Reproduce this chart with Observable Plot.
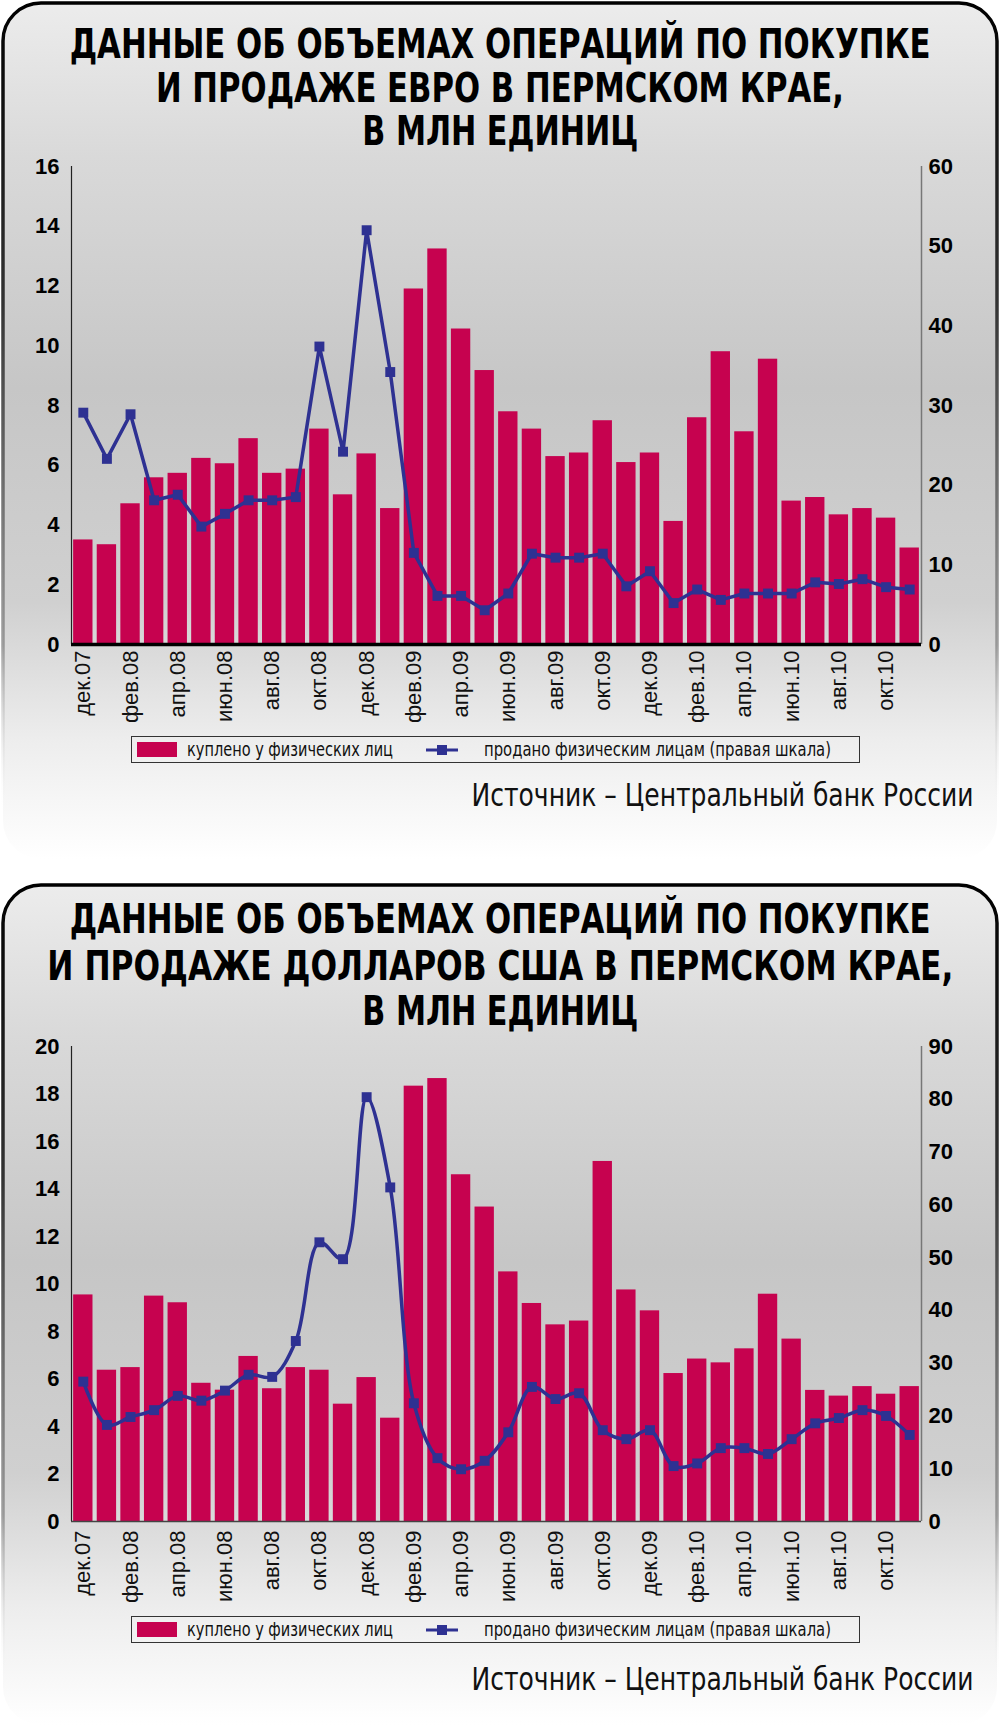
<!DOCTYPE html>
<html><head><meta charset="utf-8">
<script src="https://cdn.jsdelivr.net/npm/d3@7"></script>
<script src="https://cdn.jsdelivr.net/npm/@observablehq/plot@0.6"></script>
<style>
html,body{margin:0;padding:0;background:#fff;}
body{width:1000px;height:1726px;position:relative;overflow:hidden;font-family:"Liberation Sans",Arial,sans-serif;}
.tline{position:absolute;left:-500px;width:2000px;text-align:center;font-family:"Liberation Sans Narrow","DejaVu Sans Condensed","Liberation Sans",sans-serif;font-weight:900;font-size:40px;line-height:44px;height:44px;color:#000;white-space:nowrap;}
.fit{display:inline-block;white-space:nowrap;}
.legend{position:absolute;left:131px;width:729px;height:27px;border:1px solid #333;box-sizing:border-box;}
.legend .sw{position:absolute;left:5px;top:5px;width:40px;height:15px;background:#c6024f;}
.legend .lt{position:absolute;top:0;height:25px;line-height:25px;font-family:"Liberation Sans Narrow","DejaVu Sans Condensed","Liberation Sans",sans-serif;font-size:19px;color:#111;white-space:nowrap;transform-origin:left center;}
.legend svg{position:absolute;left:294px;top:4px;}
.source{position:absolute;right:27px;height:36px;line-height:36px;font-family:"Liberation Sans Narrow","DejaVu Sans Condensed","Liberation Sans",sans-serif;font-size:32px;color:#111;white-space:nowrap;transform-origin:right center;}
</style>
</head><body>
<div id="root"></div>
<script>
// ---------- data ----------
const months = ["дек.07","янв.08","фев.08","мар.08","апр.08","май.08","июн.08","июл.08","авг.08","сен.08","окт.08","ноя.08",
  "дек.08","янв.09","фев.09","мар.09","апр.09","май.09","июн.09","июл.09","авг.09","сен.09","окт.09","ноя.09",
  "дек.09","янв.10","фев.10","мар.10","апр.10","май.10","июн.10","июл.10","авг.10","сен.10","окт.10","ноя.10"];
const euroBought = [3.50,3.34,4.71,5.58,5.73,6.23,6.05,6.89,5.73,5.87,7.21,5.01,6.38,4.55,11.90,13.24,10.56,9.17,
  7.79,7.21,6.29,6.41,7.49,6.09,6.41,4.12,7.59,9.80,7.12,9.55,4.80,4.92,4.34,4.55,4.23,3.23];
const euroSold = [29.1,23.3,28.9,18.1,18.8,14.8,16.4,18.1,18.1,18.5,37.4,24.2,52.0,34.2,11.5,6.1,6.1,4.3,
  6.4,11.4,10.9,10.9,11.4,7.3,9.2,5.2,6.9,5.6,6.4,6.4,6.4,7.8,7.6,8.2,7.2,6.9];
const usdBought = [9.54,6.37,6.48,9.49,9.21,5.82,5.53,6.95,5.59,6.48,6.37,4.94,6.06,4.35,18.33,18.65,14.60,13.24,
  10.51,9.18,8.28,8.44,15.16,9.75,8.87,6.23,6.84,6.68,7.27,9.57,7.68,5.52,5.28,5.68,5.36,5.68];
const usdSold = [26.5,18.3,19.8,21.1,23.8,22.9,24.8,27.8,27.4,34.2,52.9,49.7,80.4,63.3,22.4,12.0,9.9,11.5,
  16.9,25.5,23.2,24.3,17.3,15.6,17.3,10.5,11.0,13.9,13.9,12.8,15.6,18.6,19.6,21.1,20.0,16.4];
const euroLeftTicks = [0,2,4,6,8,10,12,14,16];
const euroRightTicks = [0,10,20,30,40,50,60];
const usdLeftTicks = [0,2,4,6,8,10,12,14,16,18,20];
const usdRightTicks = [0,10,20,30,40,50,60,70,80,90];
const titles = [
  ["ДАННЫЕ ОБ ОБЪЕМАХ ОПЕРАЦИЙ ПО ПОКУПКЕ","И ПРОДАЖЕ ЕВРО В ПЕРМСКОМ КРАЕ,","В МЛН ЕДИНИЦ"],
  ["ДАННЫЕ ОБ ОБЪЕМАХ ОПЕРАЦИЙ ПО ПОКУПКЕ","И ПРОДАЖЕ ДОЛЛАРОВ США В ПЕРМСКОМ КРАЕ,","В МЛН ЕДИНИЦ"]
];
const legendBought = "куплено у физических лиц";
const legendSold = "продано физическим лицам (правая шкала)";
const sourceText = "Источник – Центральный банк России";

const BAR = "#c6024f", LINE = "#2e3192";
const root = document.getElementById("root");

function panelBg(top, h, id) {
  const svg = d3.create("svg").attr("width", 1000).attr("height", h)
    .style("position","absolute").style("left","0px").style("top", top + "px");
  const defs = svg.append("defs");
  const g = defs.append("linearGradient").attr("id","fill"+id).attr("x1",0).attr("y1",0).attr("x2",0).attr("y2",1);
  [[0,"#ececec"],[0.18,"#d9d9d9"],[0.45,"#c6c6c6"],[0.7,"#d0d0d0"],[0.86,"#ededed"],[1,"#ffffff"]]
    .forEach(([o,c]) => g.append("stop").attr("offset",o).attr("stop-color",c));
  const s = defs.append("linearGradient").attr("id","str"+id).attr("x1",0).attr("y1",0).attr("x2",0).attr("y2",1);
  [[0,"#000",1],[0.35,"#333",1],[0.75,"#888",0.8],[0.95,"#fff",0]]
    .forEach(([o,c,op]) => s.append("stop").attr("offset",o).attr("stop-color",c).attr("stop-opacity",op));
  svg.append("rect").attr("x",3).attr("y",3).attr("width",994).attr("height",h-4).attr("rx",38).attr("ry",38)
    .attr("fill","url(#fill"+id+")").attr("stroke","url(#str"+id+")").attr("stroke-width",3.5);
  root.appendChild(svg.node());
}

function titleBlock(lines, centers, widths) {
  lines.forEach((t,i) => {
    const d = document.createElement("div");
    d.className = "tline";
    d.style.top = (centers[i] - 22) + "px";
    const s = document.createElement("span");
    s.className = "fit"; s.textContent = t; s.dataset.w = widths[i];
    s.style.transformOrigin = "center center";
    d.appendChild(s); root.appendChild(d);
  });
}

function chart({top, bought, sold, leftTicks, rightTicks, leftMax, rightMax, marginTop, marginBottom, baseW, baseC, curve, labelPad}) {
  const k = leftMax / rightMax;
  const data = months.map((m,i) => ({i, m, b: bought[i], s: sold[i] * k}));
  const plot = Plot.plot({
    width: 1000, height: 600,
    marginLeft: 71, marginRight: 79, marginTop, marginBottom,
    x: {domain: [-0.5, months.length - 0.5], axis: null},
    y: {domain: [0, leftMax], axis: null},
    style: {background: "transparent", fontFamily: "'Liberation Sans', Arial, sans-serif", overflow: "visible"},
    marks: [
      Plot.rectY(data, {x1: d => d.i - 0.41, x2: d => d.i + 0.41, y1: 0, y2: "b", fill: BAR}),
      Plot.ruleX([-0.5], {stroke: "#222", strokeWidth: 1.2}),
      Plot.ruleX([months.length - 0.5], {stroke: "#777", strokeWidth: 1.5}),
      Plot.ruleY([0], {stroke: baseC, strokeWidth: baseW}),
      Plot.line(data, {x: "i", y: "s", stroke: LINE, strokeWidth: 3.5, curve}),
      Plot.dot(data, {x: "i", y: "s", symbol: "square", r: 5.6, fill: LINE, stroke: "none"}),
      Plot.axisY({anchor: "left", ticks: leftTicks, tickSize: 0, tickPadding: 12, fontSize: 22, fontWeight: "bold", fill: "#000", label: null}),
      Plot.axisY({anchor: "right", ticks: rightTicks.map(v => v * k), tickFormat: v => String(Math.round(v / k)),
        tickSize: 0, tickPadding: 7, fontSize: 22, fontWeight: "bold", fill: "#000", label: null}),
      Plot.axisX({ticks: d3.range(0, months.length - 1, 2), tickFormat: i => months[i], tickRotate: -90,
        tickSize: 0, tickPadding: labelPad, fontSize: 22, fill: "#111", label: null})
    ]
  });
  plot.style.position = "absolute"; plot.style.left = "0px"; plot.style.top = top + "px";
  root.appendChild(plot);
}

function legend(top) {
  const L = document.createElement("div");
  L.className = "legend"; L.style.top = top + "px";
  L.innerHTML = `<div class="sw"></div>
    <div class="lt fit" style="left:55px" data-w="206"></div>
    <svg width="32" height="18"><line x1="0" y1="9" x2="32" y2="9" stroke="${LINE}" stroke-width="3"/><rect x="11" y="4" width="10" height="10" fill="${LINE}"/></svg>
    <div class="lt fit" style="left:352px" data-w="347"></div>`;
  const lts = L.querySelectorAll(".lt");
  lts[0].textContent = legendBought; lts[1].textContent = legendSold;
  root.appendChild(L);
}

function source(center) {
  const s = document.createElement("div");
  s.className = "source fit"; s.dataset.w = 502;
  s.style.top = (center - 18) + "px";
  s.textContent = sourceText;
  root.appendChild(s);
}

// panel 1
panelBg(0, 860, 1);
titleBlock(titles[0], [44, 88, 131], [861, 688, 276]);
chart({top: 140, bought: euroBought, sold: euroSold, leftTicks: euroLeftTicks, rightTicks: euroRightTicks,
  leftMax: 16, rightMax: 60, marginTop: 26, marginBottom: 96, baseW: 3.5, baseC: "#000", curve: "linear", labelPad: 6});
legend(736);
source(795);

// panel 2
panelBg(882, 844, 2);
titleBlock(titles[1], [919, 966, 1011], [861, 906, 276]);
chart({top: 1020, bought: usdBought, sold: usdSold, leftTicks: usdLeftTicks, rightTicks: usdRightTicks,
  leftMax: 20, rightMax: 90, marginTop: 26, marginBottom: 99, baseW: 1.6, baseC: "#444", curve: "catmull-rom", labelPad: 9});
legend(1616);
source(1679);

// fit text widths
document.querySelectorAll(".fit").forEach(el => {
  const w = +el.dataset.w; if (!w) return;
  const nat = el.getBoundingClientRect().width;
  if (nat > 0) el.style.transform = `scaleX(${w / nat})`;
});
</script>
</body></html>
